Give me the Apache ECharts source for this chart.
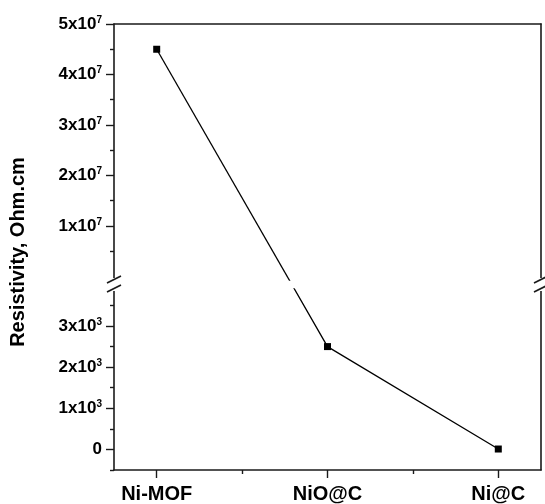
<!DOCTYPE html>
<html>
<head>
<meta charset="utf-8">
<script src="https://cdn.jsdelivr.net/npm/echarts@6/dist/echarts.min.js"></script>
<style>
  html, body { margin: 0; padding: 0; background: #fff; }
  #main { width: 545px; height: 504px; }
</style>
</head>
<body>
<div id="main"></div>
<script>
// data
var categories = ['Ni-MOF', 'NiO@C', 'Ni@C'];
var resistivity = [4.5e7, 2.5e3, 10];

// tick values of the broken y axis
var upperTicks = [1e7, 2e7, 3e7, 4e7, 5e7];
var upperMinor = [0.5e7, 1.5e7, 2.5e7, 3.5e7, 4.5e7];
var lowerTicks = [0, 1000, 2000, 3000];
var lowerMinor = [-500, 500, 1500, 2500, 3500];

var LEFT = 114, RIGHT = 4, TOP = 24, UPPER_H = 256, LOWER_TOP = 289, BOTTOM = 34;
var AX = '#1a1a1a';
var FONT = 'Liberation Sans, Arial, sans-serif';

var rich = {
  b: { fontFamily: FONT, fontWeight: 'bold', fontSize: 17, color: '#000', lineHeight: 18 },
  s: { fontFamily: FONT, fontWeight: 'bold', fontSize: 10, color: '#000', verticalAlign: 'top', lineHeight: 10 }
};

function expLabel(exp) {
  return function (v) {
    if (v === 0) return '{b|0}';
    return '{b|' + Math.round(v / Math.pow(10, exp)) + 'x10}{s|' + exp + '}';
  };
}

function hiddenAxis(grid, pos, min, max) {
  return {
    type: 'value', gridIndex: grid, position: pos, min: min, max: max,
    axisLine: { show: true, onZero: false, lineStyle: { color: AX, width: 1.6 } },
    axisTick: { show: false }, axisLabel: { show: false }, splitLine: { show: false }
  };
}

function tickAxis(grid, pos, min, max, ticks, len, labels, fmt, showLine) {
  return {
    type: 'value', gridIndex: grid, position: pos, min: min, max: max,
    axisLine: { show: showLine, onZero: false, lineStyle: { color: AX, width: 1.6 } },
    axisTick: { show: true, length: len, customValues: ticks, lineStyle: { color: AX, width: 1.4 } },
    axisLabel: labels ? {
      show: true, customValues: labels, formatter: fmt, margin: 12, rich: rich,
      fontFamily: FONT, fontWeight: 'bold', fontSize: 17, color: '#000'
    } : { show: false },
    splitLine: { show: false }
  };
}

var UMIN = -7e5, UMAX = 5e7, LMIN = -500, LMAX = 3900;

var xAxes = [
  hiddenAxis(0, 'top', -0.25, 2.25),
  tickAxis(1, 'bottom', -0.25, 2.25, [0, 1, 2], 8, [0, 1, 2], function (v) { return categories[Math.round(v)]; }, true),
  tickAxis(1, 'bottom', -0.25, 2.25, [0.5, 1.5], 4, null, null, false)
];
xAxes[1].axisLabel.fontSize = 20;
xAxes[1].axisLabel.margin = 14;
delete xAxes[1].axisLabel.rich;

var yAxes = [
  tickAxis(0, 'left', UMIN, UMAX, upperTicks, 8, upperTicks, expLabel(7), true),
  tickAxis(0, 'left', UMIN, UMAX, upperMinor, 4, null, null, false),
  hiddenAxis(0, 'right', UMIN, UMAX),
  tickAxis(1, 'left', LMIN, LMAX, lowerTicks, 8, lowerTicks, expLabel(3), true),
  tickAxis(1, 'left', LMIN, LMAX, lowerMinor, 4, null, null, false),
  hiddenAxis(1, 'right', LMIN, LMAX)
];

function breakMarks(x) {
  var y0 = TOP + UPPER_H, y1 = LOWER_TOP;
  return [
    { type: 'rect', shape: { x: x - 3, y: y0 - 2, width: 6, height: y1 - y0 + 4 }, style: { fill: '#fff' }, z: 100 },
    { type: 'line', shape: { x1: x - 7, y1: y0 + 3, x2: x + 7, y2: y0 - 4 }, style: { stroke: AX, lineWidth: 1.6 }, z: 101 },
    { type: 'line', shape: { x1: x - 7, y1: y1 + 3, x2: x + 7, y2: y1 - 4 }, style: { stroke: AX, lineWidth: 1.6 }, z: 101 }
  ];
}

var chart = echarts.init(document.getElementById('main'));

function lineStyleSeries(xi, yi, data) {
  return {
    type: 'line', xAxisIndex: xi, yAxisIndex: yi, data: data, clip: true,
    symbol: 'rect', symbolSize: 7, animation: false,
    lineStyle: { color: '#000', width: 1.3 }, itemStyle: { color: '#000' }
  };
}

var option = {
  backgroundColor: '#fff',
  animation: false,
  grid: [
    { left: LEFT, right: RIGHT, top: TOP, height: UPPER_H },
    { left: LEFT, right: RIGHT, top: LOWER_TOP, bottom: BOTTOM }
  ],
  xAxis: xAxes,
  yAxis: yAxes,
  graphic: breakMarks(LEFT).concat(breakMarks(545 - RIGHT)).concat([{
    type: 'text', left: 8, top: 'middle',
    rotation: Math.PI / 2,
    style: { text: 'Resistivity, Ohm.cm', font: 'bold 20px ' + FONT, fill: '#000' }
  }]),
  series: [
    lineStyleSeries(0, 0, [[0, resistivity[0]]]),
    lineStyleSeries(1, 3, [[1, resistivity[1]], [2, resistivity[2]]])
  ]
};
chart.setOption(option);

// carry the Ni-MOF -> NiO@C segment across the axis break using both scales
var pyLow = chart.convertToPixel({ yAxisIndex: 3 }, resistivity[1]);
var pyHigh = chart.convertToPixel({ yAxisIndex: 0 }, resistivity[0]);
var lowInUpper = chart.convertFromPixel({ yAxisIndex: 0 }, pyLow);
var highInLower = chart.convertFromPixel({ yAxisIndex: 3 }, pyHigh);

chart.setOption({
  series: [
    { data: [[0, resistivity[0]], { value: [1, lowInUpper], symbol: 'none' }] },
    { data: [{ value: [0, highInLower], symbol: 'none' }, [1, resistivity[1]], [2, resistivity[2]]] }
  ]
});
</script>
</body>
</html>
